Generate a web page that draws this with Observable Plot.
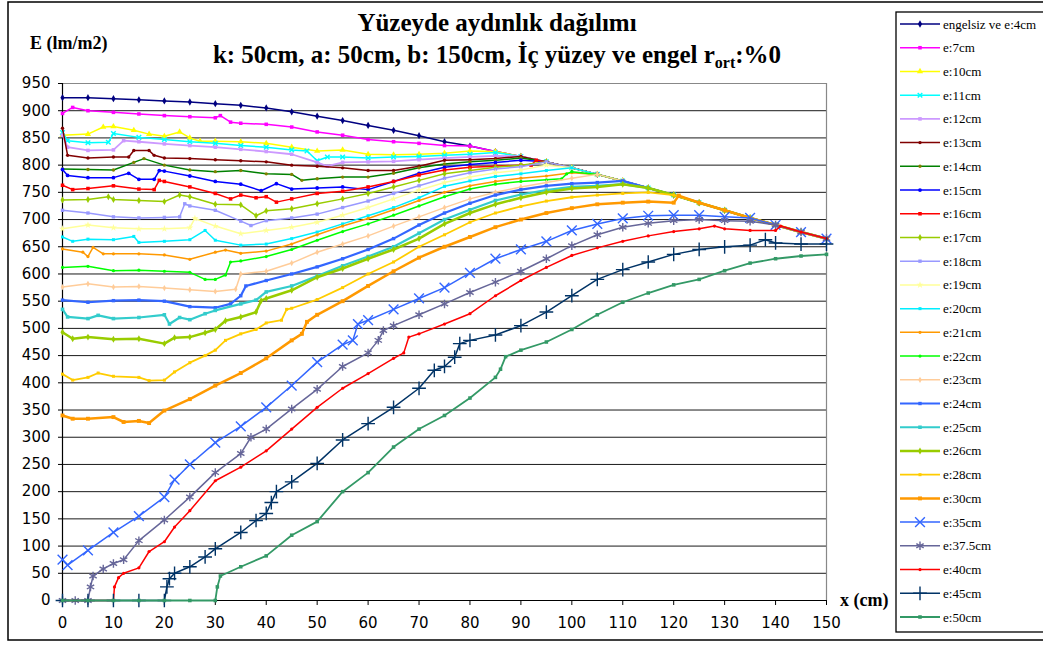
<!DOCTYPE html>
<html><head><meta charset="utf-8">
<script src="https://cdn.jsdelivr.net/npm/d3@7"></script>
<script src="https://cdn.jsdelivr.net/npm/@observablehq/plot@0.6"></script>
<style>
html,body{margin:0;padding:0;background:#fff;}
#wrap{position:relative;width:1043px;height:645px;overflow:hidden;background:#fff;}
#chart{position:absolute;left:0;top:0;}
#overlay{position:absolute;left:0;top:0;}
</style></head><body>
<div id="wrap"><div id="chart"></div><svg id="overlay" width="1043" height="645"></svg></div>
<script>
// ---------- tick labels ----------
const xTicks = [0,10,20,30,40,50,60,70,80,90,100,110,120,130,140,150];
const yTicks = [0,50,100,150,200,250,300,350,400,450,500,550,600,650,700,750,800,850,900,950];

// ---------- series names ----------
const seriesNames = ["engelsiz ve e:4cm","e:7cm","e:10cm","e:11cm","e:12cm","e:13cm","e:14cm","e:15cm","e:16cm","e:17cm","e:18cm","e:19cm","e:20cm","e:21cm","e:22cm","e:23cm","e:24cm","e:25cm","e:26cm","e:28cm","e:30cm","e:35cm","e:37.5cm","e:40cm","e:45cm","e:50cm"];

// ---------- series values [x (cm), E (lm/m2)] ----------
const v4 = [[0,924],[5,924],[10,922],[15,920],[20,918],[25,916],[30,913],[35,910],[40,905],[45,898],[50,890],[55,882],[60,873],[65,864],[70,854],[75,843],[80,835],[85,825],[90,816],[95,806],[100,795],[105,783],[110,771],[115,758],[120,745],[125,731],[130,717],[135,703],[140,690],[145,677],[150,665]];
const v7 = [[0,895],[2,906],[5,900],[10,897],[15,894],[20,891],[25,889],[30,887],[31,891],[33,879],[35,877],[40,875],[45,870],[50,861],[55,855],[60,847],[65,843],[70,840],[75,836],[80,835],[85,825],[90,816],[95,806],[100,795],[105,783],[110,771],[115,758],[120,745],[125,731],[130,717],[135,703],[140,690],[145,677],[150,665]];
const v10 = [[0,855],[5,857],[8,870],[10,871],[14,864],[17,857],[20,853],[23,861],[25,850],[27,844],[30,844],[35,843],[40,840],[45,833],[50,826],[55,828],[60,820],[65,819],[70,820],[75,822],[80,826],[85,825],[90,816],[95,806],[100,795],[105,783],[110,771],[115,758],[120,745],[125,731],[130,717],[135,703],[140,690],[145,677],[150,665]];
const v11 = [[0,860],[1,845],[5,841],[9,842],[10,858],[15,851],[20,847],[25,843],[30,840],[35,836],[40,833],[45,828],[48,826],[50,808],[52,815],[55,815],[60,813],[65,815],[70,816],[75,818],[80,820],[85,823],[90,816],[95,806],[100,795],[105,783],[110,771],[115,758],[120,745],[125,731],[130,717],[135,703],[140,690],[145,677],[150,665]];
const v12 = [[0,855],[1,833],[5,827],[10,828],[12,845],[15,843],[20,839],[25,836],[30,833],[35,829],[40,825],[45,820],[50,805],[52,798],[55,805],[60,806],[65,807],[70,810],[75,813],[80,815],[85,817],[90,816],[95,806],[100,795],[105,783],[110,771],[115,758],[120,745],[125,731],[130,717],[135,703],[140,690],[145,677],[150,665]];
const v13 = [[0,868],[1,818],[5,813],[10,815],[13,815],[14,827],[17,827],[18,818],[20,813],[25,812],[30,810],[35,808],[40,806],[45,800],[50,798],[55,795],[60,790],[65,790],[70,798],[75,809],[80,810],[85,812],[90,816],[95,806],[100,795],[105,783],[110,771],[115,758],[120,745],[125,731],[130,717],[135,703],[140,690],[145,677],[150,665]];
const v14 = [[0,793],[5,792],[10,791],[14,805],[16,812],[20,800],[25,791],[30,788],[35,790],[40,784],[45,783],[47,772],[50,775],[55,778],[60,778],[65,785],[70,795],[75,802],[80,806],[85,809],[90,813],[95,806],[100,795],[105,783],[110,771],[115,758],[120,745],[125,731],[130,717],[135,703],[140,690],[145,677],[150,665]];
const v15 = [[0,792],[1,781],[5,777],[10,777],[13,785],[15,774],[18,774],[19,790],[20,789],[25,780],[30,770],[35,765],[39,753],[42,766],[45,756],[50,758],[55,760],[60,755],[65,770],[70,785],[75,796],[80,801],[85,805],[90,809],[95,806],[100,795],[105,783],[110,771],[115,758],[120,745],[125,731],[130,717],[135,703],[140,690],[145,677],[150,665]];
const v16 = [[0,763],[2,755],[5,757],[10,762],[15,756],[18,755],[19,772],[20,770],[25,760],[30,748],[33,738],[35,745],[38,740],[40,742],[42,732],[45,738],[50,748],[55,752],[60,760],[65,770],[70,782],[75,791],[80,796],[85,798],[90,800],[92,800],[93,809],[95,806],[100,795],[105,783],[110,771],[115,758],[120,745],[125,731],[130,717],[135,703],[140,690],[145,677],[150,665]];
const v17 = [[0,736],[5,737],[9,742],[10,737],[15,735],[20,733],[23,745],[25,742],[30,728],[35,727],[38,707],[40,716],[45,720],[50,729],[55,738],[60,748],[65,760],[70,772],[75,784],[80,790],[85,796],[90,800],[95,806],[100,795],[105,783],[110,771],[115,758],[120,745],[125,731],[130,717],[135,703],[140,690],[145,677],[150,665]];
const v18 = [[0,717],[5,712],[10,705],[15,703],[20,704],[23,705],[24,729],[25,725],[30,717],[35,697],[37,689],[40,698],[45,703],[50,710],[55,722],[60,734],[65,748],[70,762],[75,776],[80,786],[85,793],[90,797],[95,806],[100,795],[105,783],[110,771],[115,758],[120,745],[125,731],[130,717],[135,703],[140,690],[145,677],[150,665]];
const v19 = [[0,683],[5,690],[10,685],[15,683],[20,683],[25,685],[26,702],[30,688],[35,674],[40,680],[45,686],[50,695],[55,708],[60,722],[65,738],[70,754],[75,768],[80,778],[85,786],[90,791],[95,800],[100,795],[105,783],[110,771],[115,758],[120,745],[125,731],[130,717],[135,703],[140,690],[145,677],[150,665]];
const v20 = [[0,668],[2,660],[5,664],[10,663],[14,669],[15,658],[20,660],[25,663],[28,680],[30,662],[35,653],[40,655],[45,665],[50,677],[55,692],[60,707],[65,722],[70,740],[75,761],[80,771],[85,779],[90,784],[95,790],[100,795],[105,783],[110,771],[115,758],[120,745],[125,731],[130,717],[135,703],[140,690],[145,677],[150,665]];
const v21 = [[0,646],[4,640],[5,632],[6,649],[8,637],[10,637],[15,637],[20,635],[25,627],[30,640],[32,644],[35,638],[40,642],[45,655],[50,672],[55,688],[60,702],[65,718],[70,735],[75,750],[80,762],[85,770],[90,776],[95,780],[100,786],[105,783],[110,771],[115,758],[120,745],[125,731],[130,717],[135,703],[140,690],[145,677],[150,665]];
const v22 = [[0,612],[5,614],[10,606],[15,607],[20,605],[25,603],[28,590],[30,590],[32,598],[33,622],[35,624],[40,632],[45,645],[50,662],[55,678],[60,692],[65,708],[70,725],[75,742],[80,756],[85,765],[90,770],[95,773],[98,775],[99,784],[100,788],[105,783],[110,771],[115,758],[120,745],[125,731],[130,717],[135,703],[140,690],[145,677],[150,665]];
const v23 = [[0,576],[5,582],[10,576],[15,577],[20,574],[25,571],[30,568],[34,572],[35,600],[40,605],[45,620],[50,640],[55,655],[60,670],[65,688],[70,705],[75,722],[80,738],[85,750],[90,760],[95,768],[100,776],[105,783],[110,771],[115,758],[120,745],[125,731],[130,717],[135,703],[140,690],[145,677],[150,665]];
const v24 = [[0,552],[5,548],[10,551],[15,552],[20,550],[25,540],[30,538],[33,545],[35,560],[36,578],[40,588],[45,600],[50,613],[55,628],[60,645],[65,665],[70,690],[75,712],[80,730],[85,745],[90,755],[95,762],[100,766],[105,768],[110,771],[115,758],[120,745],[125,731],[130,717],[135,703],[140,690],[145,677],[150,665]];
const v25 = [[0,535],[1,521],[5,518],[7,524],[10,518],[15,520],[20,525],[21,508],[23,520],[25,516],[28,527],[30,533],[35,545],[38,552],[40,567],[45,578],[50,596],[55,615],[60,632],[65,650],[70,675],[75,700],[80,718],[85,735],[90,746],[95,754],[100,760],[105,762],[110,765],[115,758],[120,745],[125,731],[130,717],[135,703],[140,690],[145,677],[150,665]];
const v26 = [[0,493],[2,481],[5,484],[10,480],[15,481],[20,472],[22,483],[25,484],[28,492],[30,498],[32,514],[35,521],[38,530],[39,551],[40,555],[45,570],[50,594],[55,610],[60,628],[65,645],[70,665],[75,692],[80,712],[85,728],[90,740],[95,750],[100,757],[105,760],[110,765],[115,758],[120,745],[125,731],[130,717],[135,703],[140,690],[145,677],[150,665]];
const v28 = [[0,416],[2,405],[5,410],[7,418],[10,412],[15,410],[17,404],[20,405],[22,420],[25,437],[28,450],[30,460],[32,478],[35,490],[38,498],[40,510],[43,515],[44,535],[45,537],[50,553],[55,575],[60,600],[65,622],[70,650],[75,672],[80,695],[85,712],[90,724],[95,734],[100,741],[105,745],[110,748],[115,750],[120,745],[125,731],[130,717],[135,703],[140,690],[145,677],[150,665]];
const v30 = [[0,340],[2,334],[5,334],[10,337],[12,328],[15,330],[17,326],[20,349],[25,370],[30,395],[35,418],[40,445],[45,478],[47,490],[48,512],[50,525],[55,550],[60,578],[65,605],[70,630],[75,650],[80,668],[85,686],[90,700],[95,712],[100,721],[105,728],[110,731],[115,733],[120,731],[121,744],[125,731],[130,717],[135,703],[140,690],[145,677],[150,665]];
const v35 = [[0,75],[1,65],[5,92],[10,125],[15,155],[20,190],[22,222],[25,250],[30,290],[35,320],[40,355],[45,395],[50,438],[55,470],[57,478],[58,508],[60,515],[65,535],[70,555],[75,575],[80,602],[85,628],[90,645],[95,660],[100,680],[105,692],[110,702],[115,707],[120,708],[125,708],[130,705],[135,703],[140,690],[145,677],[150,665]];
const v37_5 = [[0,0],[2.5,0],[5,0],[5.5,25],[6,45],[8,58],[10,68],[12,75],[15,110],[20,148],[25,190],[30,235],[35,270],[37,300],[40,315],[45,352],[50,388],[55,430],[60,455],[62,478],[63,496],[65,505],[70,525],[75,545],[80,566],[85,585],[90,605],[95,628],[100,652],[105,672],[110,686],[115,693],[120,698],[125,700],[130,698],[135,697],[140,690],[145,677],[150,665]];
const v40 = [[0,0],[5,0],[10,0],[10.2,25],[11,42],[12,50],[15,60],[17,90],[20,108],[22,135],[25,165],[30,220],[35,245],[40,275],[45,315],[50,355],[55,390],[60,417],[65,445],[67,455],[68,484],[70,490],[75,508],[80,527],[85,560],[90,588],[95,612],[100,634],[105,648],[110,660],[115,670],[120,678],[125,683],[128,688],[130,683],[135,680],[140,680],[141,688],[145,677],[150,665]];
const v45 = [[0,0],[5,0],[10,0],[15,0],[20,0],[20.5,25],[21,40],[22,50],[25,62],[28,80],[30,95],[35,125],[38,147],[40,160],[41,180],[42,200],[45,218],[50,252],[55,295],[60,325],[65,355],[70,390],[73,423],[75,430],[77,447],[78,472],[80,478],[85,488],[90,505],[95,530],[100,560],[105,590],[110,608],[115,622],[120,636],[125,645],[130,650],[135,653],[138,663],[140,657],[145,655],[150,655]];
const v50 = [[0,0],[5,0],[10,0],[15,0],[20,0],[25,0],[30,0],[30.4,25],[31,45],[35,62],[40,82],[45,120],[50,145],[55,200],[60,235],[65,282],[70,315],[75,340],[80,372],[85,410],[86,425],[87,448],[90,460],[95,475],[100,498],[105,525],[110,548],[115,565],[120,580],[125,590],[130,606],[135,620],[140,628],[145,633],[150,636]];

const seriesValues = [v4,v7,v10,v11,v12,v13,v14,v15,v16,v17,v18,v19,v20,v21,v22,v23,v24,v25,v26,v28,v30,v35,v37_5,v40,v45,v50];

// ---------- styles ----------
const colors = ["#000080","#FF00FF","#FFFF00","#00FFFF","#CC99FF","#800000","#008000","#0000FF","#FF0000","#99CC00","#9999FF","#FFFF99","#00EEFF","#FF9900","#00FF00","#FFCC99","#3366FF","#33CCCC","#99CC00","#FFCC00","#FF9900","#3366FF","#666699","#FF0000","#003366","#339966"];
const markerColors = ["#000080","#FF00FF","#FFFF00","#00FFFF","#CC99FF","#800000","#808000","#0000FF","#FF0000","#99CC00","#9999FF","#FFFF99","#00EEFF","#FF9900","#00FF00","#FFCC99","#3366FF","#33CCCC","#99CC00","#FFCC00","#FF9900","#3366FF","#666699","#FF0000","#003366","#339966"];
const symbols = ["diamond","square","triangle","times","square","circle","circle","circle","square","diamond","square","star","square","circle","circle","diamond","square","square","diamond","square","square","times","asterisk","circle","plus","square"];
const radii = [2.2,2,2.3,2.2,2,1.7,1.7,1.9,2,2.1,1.9,2.2,1.7,1.6,1.6,1.9,1.9,2,2.1,1.7,2.2,4.5,4,1.6,4.5,2];
const widths = [1.5,1.5,1.5,1.5,1.8,1.5,1.5,1.5,1.5,1.5,1.5,1.5,1.5,1.5,1.5,1.5,2.2,2.2,2.5,1.8,2.5,1.5,1.5,1.5,1.5,1.8];
const strokeSymbols = new Set(["times","plus","asterisk"]);

// ---------- plot ----------
const marks = [
  Plot.ruleY(yTicks.filter(t => t > 0 && t < 950), {stroke: "#1a1a1a", strokeWidth: 1}),
  Plot.ruleY([950], {stroke: "#888", strokeWidth: 1.2}),
  Plot.ruleX([150], {stroke: "#888", strokeWidth: 1.2}),
  Plot.axisY({ticks: yTicks, tickSize: 4, tickPadding: 8, label: null, tickFormat: d => String(d)}),
  Plot.axisX({ticks: xTicks, tickSize: 5, tickPadding: 12, label: null, tickFormat: d => String(d)}),
  Plot.ruleX([0], {stroke: "#000", strokeWidth: 1.2}),
  Plot.ruleY([0], {stroke: "#000", strokeWidth: 1.2})
];
seriesValues.forEach((vals, i) => {
  const rows = vals.map(([x, y]) => ({x, y}));
  marks.push(Plot.line(rows, {x: "x", y: "y", stroke: colors[i], strokeWidth: widths[i], strokeLinejoin: "round"}));
  const isStroke = strokeSymbols.has(symbols[i]);
  marks.push(Plot.dot(rows, {
    x: "x", y: "y", symbol: symbols[i], r: radii[i],
    fill: isStroke ? "none" : markerColors[i],
    stroke: isStroke ? markerColors[i] : "none",
    strokeWidth: isStroke ? 1.4 : 0
  }));
});

const chart = Plot.plot({
  width: 1043, height: 645,
  marginLeft: 62, marginRight: 217, marginTop: 83, marginBottom: 45,
  x: {domain: [0, 150]},
  y: {domain: [0, 950]},
  style: {fontFamily: "'DejaVu Sans', sans-serif", fontSize: "15px", background: "transparent", color: "#000"},
  marks
});
document.getElementById("chart").appendChild(chart);

// ---------- overlay: frame, titles, legend ----------
const ov = d3.select("#overlay");
ov.append("rect").attr("x", 8).attr("y", 2).attr("width", 1060).attr("height", 638)
  .attr("fill", "none").attr("stroke", "#000").attr("stroke-width", 1.5);

const serif = "'Liberation Serif', 'Times New Roman', serif";
ov.append("text").attr("x", 497).attr("y", 31).attr("text-anchor", "middle")
  .attr("font-family", serif).attr("font-weight", "bold").attr("font-size", 25)
  .text("Yüzeyde aydınlık dağılımı");
const t2 = ov.append("text").attr("x", 497).attr("y", 63).attr("text-anchor", "middle")
  .attr("font-family", serif).attr("font-weight", "bold").attr("font-size", 25);
t2.append("tspan").text("k: 50cm, a: 50cm, b: 150cm, İç yüzey ve engel r");
t2.append("tspan").attr("font-size", 16).attr("dy", 5).text("ort");
t2.append("tspan").attr("dy", -5).text(":%0");

ov.append("text").attr("x", 30).attr("y", 49)
  .attr("font-family", serif).attr("font-weight", "bold").attr("font-size", 18)
  .text("E (lm/m2)");
ov.append("text").attr("x", 840).attr("y", 606)
  .attr("font-family", serif).attr("font-weight", "bold").attr("font-size", 18)
  .text("x (cm)");

// legend
ov.append("rect").attr("x", 896).attr("y", 12).attr("width", 200).attr("height", 620)
  .attr("fill", "#fff").attr("stroke", "#000").attr("stroke-width", 1.3);
const d3sym = {diamond: d3.symbolDiamond, square: d3.symbolSquare, triangle: d3.symbolTriangle, times: d3.symbolTimes,
  circle: d3.symbolCircle, star: d3.symbolStar, asterisk: d3.symbolAsterisk, plus: d3.symbolPlus};
seriesNames.forEach((name, i) => {
  const y = 24 + i * 23.72;
  const g = ov.append("g");
  g.append("line").attr("x1", 900).attr("x2", 940).attr("y1", y).attr("y2", y)
    .attr("stroke", colors[i]).attr("stroke-width", Math.max(1.5, widths[i]));
  const isStroke = strokeSymbols.has(symbols[i]);
  g.append("path").attr("transform", `translate(920,${y})`)
    .attr("d", d3.symbol(d3sym[symbols[i]], Math.PI * radii[i] * radii[i])())
    .attr("fill", isStroke ? "none" : markerColors[i])
    .attr("stroke", isStroke ? markerColors[i] : "none").attr("stroke-width", 1.4);
  g.append("text").attr("x", 943).attr("y", y + 4.5)
    .attr("font-family", serif).attr("font-size", 13).attr("fill", "#000").text(name);
});
</script>
</body></html>
